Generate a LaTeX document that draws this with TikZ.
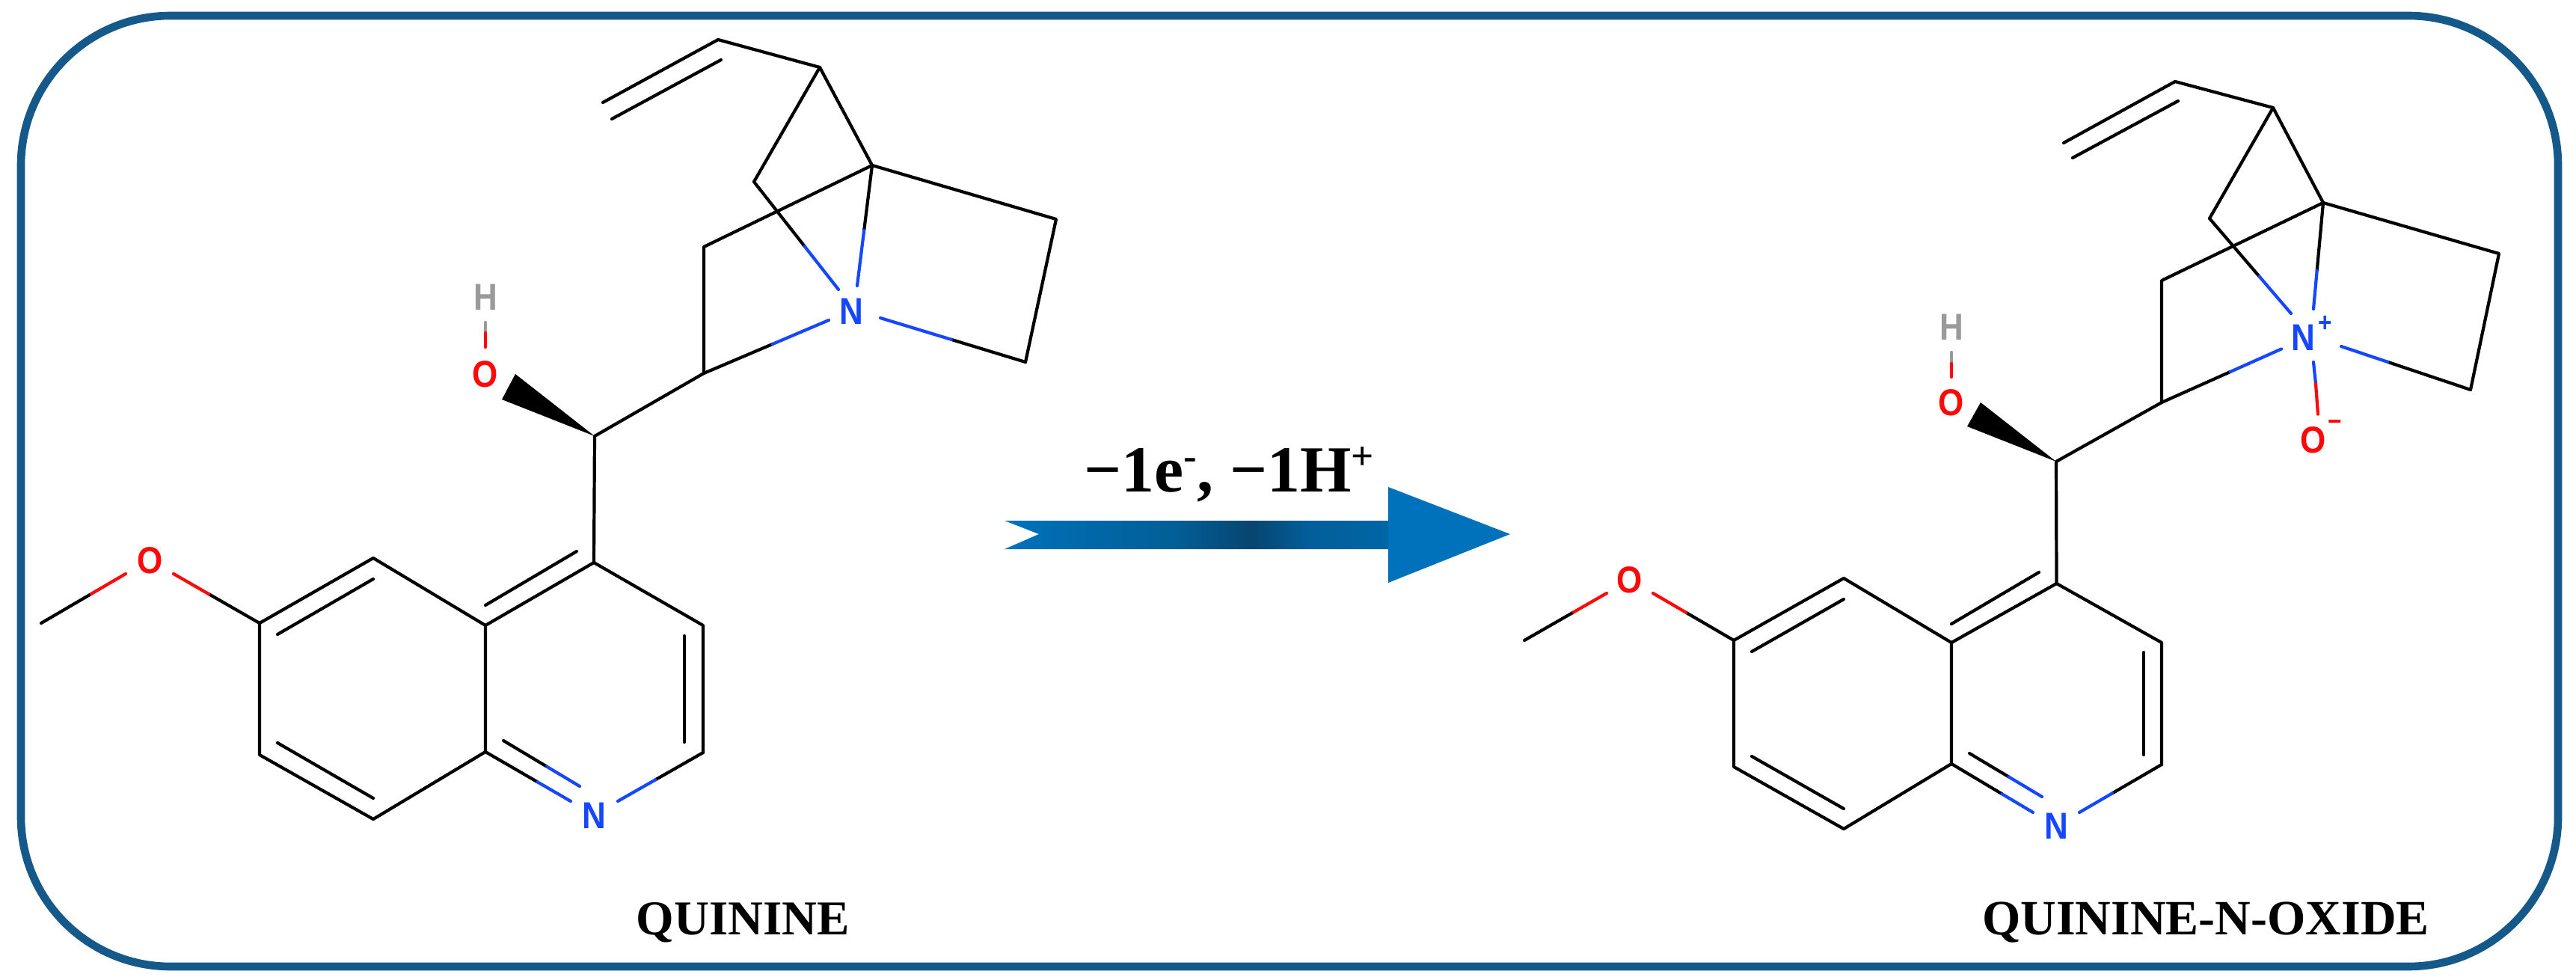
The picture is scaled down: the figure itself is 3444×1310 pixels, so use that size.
\documentclass[tikz,border=0pt]{standalone}
\usepackage{fontspec}
\setmainfont{Liberation Serif}
\newfontfamily\atomfont[FakeStretch=0.88]{Liberation Sans}
\usetikzlibrary{calc}
\definecolor{frameblue}{HTML}{14598A}
\definecolor{atomblue}{HTML}{1447FF}
\definecolor{atomred}{HTML}{FF0808}
\definecolor{atomgray}{HTML}{9A9A9A}
\pgfdeclarehorizontalshading{arrowshade}{100bp}{
  rgb(0bp)=(0,0.447,0.737);
  rgb(25bp)=(0,0.447,0.737);
  rgb(33bp)=(0.0,0.41,0.66);
  rgb(42bp)=(0.01,0.37,0.59);
  rgb(49.5bp)=(0.03,0.27,0.44);
  rgb(55bp)=(0.01,0.37,0.60);
  rgb(62.9bp)=(0,0.40,0.65);
  rgb(63bp)=(0,0.447,0.737);
  rgb(100bp)=(0,0.447,0.737)}
\tikzset{
  x=0.5pt,y=-0.5pt,
  bond/.style={line width=2.1pt,line cap=round,line join=round,black},
  bluebond/.style={line width=2.1pt,line cap=round,atomblue},
  redbond/.style={line width=2.1pt,line cap=round,atomred},
  graybond/.style={line width=2.1pt,line cap=round,atomgray},
  atomlabel/.style={inner sep=0pt,font=\atomfont\bfseries\fontsize{25pt}{28pt}\selectfont},
  atomN/.style={atomlabel,text=atomblue},
  atomO/.style={atomlabel,text=atomred},
  atomH/.style={atomlabel,text=atomgray},
  chargeN/.style={inner sep=0pt,text=atomblue,font=\atomfont\bfseries\fontsize{18pt}{20pt}\selectfont},
  chargeO/.style={inner sep=0pt,text=atomred,font=\atomfont\bfseries\fontsize{18pt}{20pt}\selectfont},
  caption/.style={inner sep=0pt,anchor=base,font=\bfseries\fontsize{32.5pt}{36pt}\selectfont},
  wedge/.style={fill=black,draw=none},
}
\newcommand{\supbold}[1]{\raisebox{15pt}{\fontsize{26.5pt}{28pt}\selectfont #1}}
% outer atom, inner end, fraction of the way at which the colour changes, colour style
\newcommand{\splitbond}[4]{%
  \draw[bond] (#1) -- ($(#1)!#3!(#2)$);
  \draw[#4] ($(#1)!#3!(#2)$) -- (#2);}
\begin{document}
\begin{tikzpicture}
\useasboundingbox (0,0) rectangle (3444,1310);
\fill[white] (0,0) rectangle (3444,1310);
\draw[frameblue,line width=5.3pt,rounded corners=100pt] (28,21) rectangle (3420,1292);

% ---------- left molecule: atoms ----------
\coordinate (Lvt) at (806,137);
\coordinate (Lvi1) at (818,159);
\coordinate (Lvi2) at (964,80);
\coordinate (Lcv) at (960,53);
\coordinate (Lc3) at (1096,90);
\coordinate (Lbr) at (1166,221);
\coordinate (Lcl) at (1008,243);
\coordinate (Lcu) at (941,330);
\coordinate (Lcb) at (941,499);
\coordinate (Lrt) at (1412,293);
\coordinate (Lrb) at (1371,484);
\coordinate (Lst) at (795,583);
\coordinate (Lw1) at (689,500);
\coordinate (Lw2) at (671,534);
\coordinate (Lc4) at (794,752);
\coordinate (Lc3q) at (940,836);
\coordinate (Lc2q) at (940,1006);
\coordinate (Lc4a) at (649,836);
\coordinate (Lc8a) at (649,1005);
\coordinate (Lc5) at (499,746);
\coordinate (Lc6) at (347,833);
\coordinate (Lc7) at (347,1009);
\coordinate (Lc8) at (499,1095);
\coordinate (Lme) at (55,833);
\node[atomN] (LN) at (1138,416) {N};
\node[atomO] (LOH) at (649,500) {O};
\node[atomH] (LH) at (649,397) {H};
\node[atomO] (LOm) at (200.5,749) {O};
\node[atomN] (LNq) at (794,1090) {N};
\node[caption] (Lcap) at (993.5,1249) {QUININE};

\draw[bond] (Lvt) -- (Lcv) -- (Lc3) -- (Lbr) -- (Lrt) -- (Lrb);
\draw[bond] (Lvi1) -- (Lvi2);
\draw[bond] (Lc3) -- (Lcl);
\draw[bond] (Lbr) -- (Lcu) -- (Lcb) -- (Lst) -- (Lc4);
\draw[wedge] (Lst) -- (Lw1) -- (Lw2) -- cycle;

% N bonds: black part then blue part
\coordinate (Lb1e) at (1121,387);
\coordinate (Lb2e) at (1146,382);
\coordinate (Lb3e) at (1108,428);
\coordinate (Lb4e) at (1177,425);
\splitbond{Lcl}{Lb1e}{0.60}{bluebond}
\splitbond{Lbr}{Lb2e}{0.54}{bluebond}
\splitbond{Lcb}{Lb3e}{0.55}{bluebond}
\splitbond{Lrb}{Lb4e}{0.51}{bluebond}

% OH
\coordinate (Loh1) at (649,431); \coordinate (Lohm) at (649,445); \coordinate (Loh2) at (649,464);
\draw[graybond] (Loh1) -- (Lohm);
\draw[redbond] (Lohm) -- (Loh2);

% methoxy
\coordinate (Lm1e) at (168,767);
\coordinate (Lm2e) at (232,767);
\splitbond{Lme}{Lm1e}{0.59}{redbond}
\splitbond{Lc6}{Lm2e}{0.59}{redbond}

% quinoline rings
\draw[bond] (Lc4) -- (Lc3q) -- (Lc2q);
\draw[bond] (Lc4) -- (Lc4a) -- (Lc5) -- (Lc6) -- (Lc7) -- (Lc8) -- (Lc8a) -- (Lc4a);
\coordinate (Li1a) at (371,848); \coordinate (Li1b) at (499,774);
\coordinate (Li2a) at (649,809); \coordinate (Li2b) at (771,737);
\coordinate (Li3a) at (915,850); \coordinate (Li3b) at (915,992);
\coordinate (Li4a) at (371,993); \coordinate (Li4b) at (499,1067);
\draw[bond] (Li1a) -- (Li1b);
\draw[bond] (Li2a) -- (Li2b);
\draw[bond] (Li3a) -- (Li3b);
\draw[bond] (Li4a) -- (Li4b);
\coordinate (Ln1) at (673,990); \coordinate (Ln1e) at (775,1051);
\coordinate (Ln2e) at (763,1071);
\coordinate (Ln3e) at (826,1071);
\splitbond{Ln1}{Ln1e}{0.57}{bluebond}
\splitbond{Lc8a}{Ln2e}{0.61}{bluebond}
\splitbond{Lc2q}{Ln3e}{0.56}{bluebond}

% ---------- arrow ----------
\coordinate (At1) at (1343,696);
\coordinate (An) at (1389,714);
\coordinate (At2) at (1343,734);
\coordinate (As1) at (1856,696);
\coordinate (Ah1) at (1856,651);
\coordinate (Atip) at (2019,714);
\coordinate (Ah2) at (1856,779);
\coordinate (As2) at (1856,734);
\path[shading=arrowshade] (At1) -- (As1) -- (Ah1) -- (Atip) -- (Ah2) -- (As2) -- (At2) -- (An) -- cycle;
\node[inner sep=0pt,anchor=base,font=\bfseries\fontsize{44pt}{48pt}\selectfont] (Alab) at (1643,657)
  {\char"2212 1e\supbold{-}, \char"2212 1H\supbold{+}};

% ---------- right molecule: atoms ----------
\coordinate (Rvt) at (2759,191);
\coordinate (Rvi1) at (2771,211);
\coordinate (Rvi2) at (2912,135);
\coordinate (Rcv) at (2908,109);
\coordinate (Rc3) at (3039,144);
\coordinate (Rbr) at (3106,271);
\coordinate (Rcl) at (2954,292);
\coordinate (Rcu) at (2890,375);
\coordinate (Rcb) at (2890,538);
\coordinate (Rrt) at (3341,339);
\coordinate (Rrb) at (3303,521);
\coordinate (Rst) at (2749,617);
\coordinate (Rw1) at (2648,538);
\coordinate (Rw2) at (2630,570);
\coordinate (Rc4) at (2749.5,780);
\coordinate (Rc3q) at (2890,859);
\coordinate (Rc2q) at (2890,1022);
\coordinate (Rc4a) at (2609,859);
\coordinate (Rc8a) at (2609,1021);
\coordinate (Rc5) at (2465,773);
\coordinate (Rc6) at (2318,856);
\coordinate (Rc7) at (2318,1025);
\coordinate (Rc8) at (2465,1108);
\coordinate (Rme) at (2038,856);
\node[atomN] (RN) at (3079,451) {N};
\node[chargeN] (RNp) at (3109,433) {+};
\node[atomO] (ROx) at (3093,588) {O};
\node[chargeO] (ROm) at (3122,569) {\char"2212};
\node[atomO] (ROH) at (2609,538) {O};
\node[atomH] (RH) at (2609,437.5) {H};
\node[atomO] (ROme) at (2179,775) {O};
\node[atomN] (RNq) at (2749.5,1104) {N};
\node[caption,font=\bfseries\fontsize{33pt}{36pt}\selectfont] (Rcap) at (2949,1249) {QUININE-N-OXIDE};

\draw[bond] (Rvt) -- (Rcv) -- (Rc3) -- (Rbr) -- (Rrt) -- (Rrb);
\draw[bond] (Rvi1) -- (Rvi2);
\draw[bond] (Rc3) -- (Rcl);
\draw[bond] (Rbr) -- (Rcu) -- (Rcb) -- (Rst) -- (Rc4);
\draw[wedge] (Rst) -- (Rw1) -- (Rw2) -- cycle;

\coordinate (Rb1e) at (3063,419);
\coordinate (Rb2e) at (3093,413);
\coordinate (Rb3e) at (3050,466.5);
\coordinate (Rb4e) at (3130,463);
\splitbond{Rcl}{Rb1e}{0.61}{bluebond}
\splitbond{Rbr}{Rb2e}{0.64}{bluebond}
\splitbond{Rcb}{Rb3e}{0.575}{bluebond}
\splitbond{Rrb}{Rb4e}{0.64}{bluebond}
\coordinate (Rno1) at (3093,484); \coordinate (Rnom) at (3096,513); \coordinate (Rno2) at (3099,553.6);
\draw[bluebond] (Rno1) -- (Rnom);
\draw[redbond] (Rnom) -- (Rno2);

\coordinate (Roh1) at (2609,471); \coordinate (Rohm) at (2609,486); \coordinate (Roh2) at (2609,504);
\draw[graybond] (Roh1) -- (Rohm);
\draw[redbond] (Rohm) -- (Roh2);

\coordinate (Rm1e) at (2148,793);
\coordinate (Rm2e) at (2210,793);
\splitbond{Rme}{Rm1e}{0.60}{redbond}
\splitbond{Rc6}{Rm2e}{0.59}{redbond}

\draw[bond] (Rc4) -- (Rc3q) -- (Rc2q);
\draw[bond] (Rc4) -- (Rc4a) -- (Rc5) -- (Rc6) -- (Rc7) -- (Rc8) -- (Rc8a) -- (Rc4a);
\coordinate (Ri1a) at (2342,871); \coordinate (Ri1b) at (2465,801);
\coordinate (Ri2a) at (2609,834); \coordinate (Ri2b) at (2726,765);
\coordinate (Ri3a) at (2866,872); \coordinate (Ri3b) at (2866,1009);
\coordinate (Ri4a) at (2342,1011); \coordinate (Ri4b) at (2465,1081);
\draw[bond] (Ri1a) -- (Ri1b);
\draw[bond] (Ri2a) -- (Ri2b);
\draw[bond] (Ri3a) -- (Ri3b);
\draw[bond] (Ri4a) -- (Ri4b);
\coordinate (Rn1) at (2633,1007); \coordinate (Rn1e) at (2730,1065);
\coordinate (Rn2e) at (2718,1086);
\coordinate (Rn3e) at (2780,1086);
\splitbond{Rn1}{Rn1e}{0.54}{bluebond}
\splitbond{Rc8a}{Rn2e}{0.62}{bluebond}
\splitbond{Rc2q}{Rn3e}{0.60}{bluebond}
\end{tikzpicture}
\end{document}
